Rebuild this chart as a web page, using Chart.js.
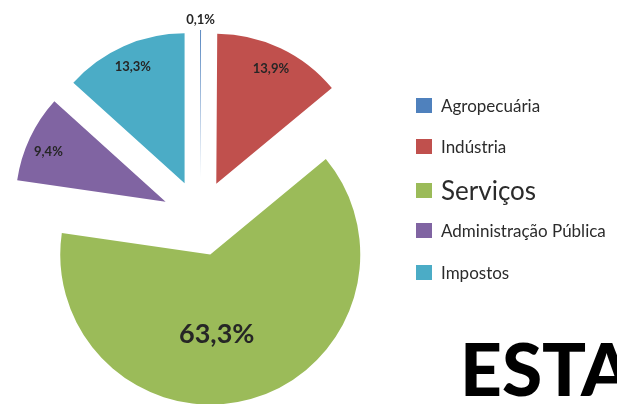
<!DOCTYPE html>
<html>
<head>
<meta charset="utf-8">
<script src="https://cdn.jsdelivr.net/npm/chart.js@4/dist/chart.umd.min.js"></script>
<style>
  html, body { margin:0; padding:0; background:#fff; }
  #wrap { position:relative; width:617px; height:404px; overflow:hidden; font-family:Lato, "Open Sans", sans-serif; }
  #pie { position:absolute; left:0; top:0; }
  .leg { position:absolute; left:416px; display:flex; align-items:center; color:#2b2b2b; font-size:17px; white-space:nowrap; }
  .leg .sw { width:16px; height:15px; margin-right:9px; }
  .leg.big { font-size:26px; }
  #esta { position:absolute; left:460px; top:332px; font-size:73px; font-weight:900; color:#000; white-space:nowrap; line-height:1; }
</style>
</head>
<body>
<div id="wrap">
  <canvas id="pie" width="617" height="404"></canvas>
  <div id="legend"></div>
  <div id="esta">ESTA</div>
</div>
<script>
const categories = ['Agropecuária', 'Indústria', 'Serviços', 'Administração Pública', 'Impostos'];
const shares = [0.1, 13.9, 63.3, 9.4, 13.3];
const colors = ['#4F81BD', '#C0504D', '#9BBB59', '#8064A2', '#4BACC6'];

const EXPLODE = 38;
// [fraction of radius, angle shift in degrees] for each slice label
const LABEL_POS = [[1.07, 0], [0.85, 0], [0.53, 11], [0.85, -2], [0.85, 0]];
const LABEL_FONT = [13, 13, 27, 13, 13];

const fmt = v => v.toFixed(1).replace('.', ',') + '%';

// pull every slice out of the centre
const explode = {
  id: 'explode',
  afterDatasetsUpdate(chart) {
    chart.getDatasetMeta(0).data.forEach(arc => {
      const mid = (arc.startAngle + arc.endAngle) / 2;
      arc.x += Math.cos(mid) * EXPLODE;
      arc.y += Math.sin(mid) * EXPLODE;
    });
  }
};

const sliceLabels = {
  id: 'sliceLabels',
  afterDatasetsDraw(chart) {
    const ctx = chart.ctx;
    ctx.save();
    ctx.fillStyle = '#262626';
    ctx.textAlign = 'center';
    ctx.textBaseline = 'middle';
    chart.getDatasetMeta(0).data.forEach((arc, i) => {
      const [frac, shift] = LABEL_POS[i];
      const a = (arc.startAngle + arc.endAngle) / 2 + shift * Math.PI / 180;
      const r = arc.outerRadius * frac;
      ctx.font = `bold ${LABEL_FONT[i]}px Lato, "Open Sans", sans-serif`;
      ctx.fillText(fmt(shares[i]), arc.x + Math.cos(a) * r, arc.y + Math.sin(a) * r);
    });
    ctx.restore();
  }
};

new Chart(document.getElementById('pie'), {
  type: 'pie',
  data: { labels: categories, datasets: [{ data: shares, backgroundColor: colors, borderWidth: 0 }] },
  options: {
    responsive: false,
    animation: false,
    events: [],
    layout: { padding: { left: 50, top: 68, right: 267, bottom: 36 } },
    plugins: { legend: { display: false }, tooltip: { enabled: false } }
  },
  plugins: [explode, sliceLabels]
});

const legendTops = [107, 148, 191, 232, 274];
document.getElementById('legend').innerHTML = categories.map((c, i) => `
  <div class="leg${i === 2 ? ' big' : ''}" style="top:${legendTops[i] - (i === 2 ? 17 : 12)}px">
    <span class="sw" style="background:${colors[i]}"></span>${c}
  </div>`).join('');
</script>
</body>
</html>
